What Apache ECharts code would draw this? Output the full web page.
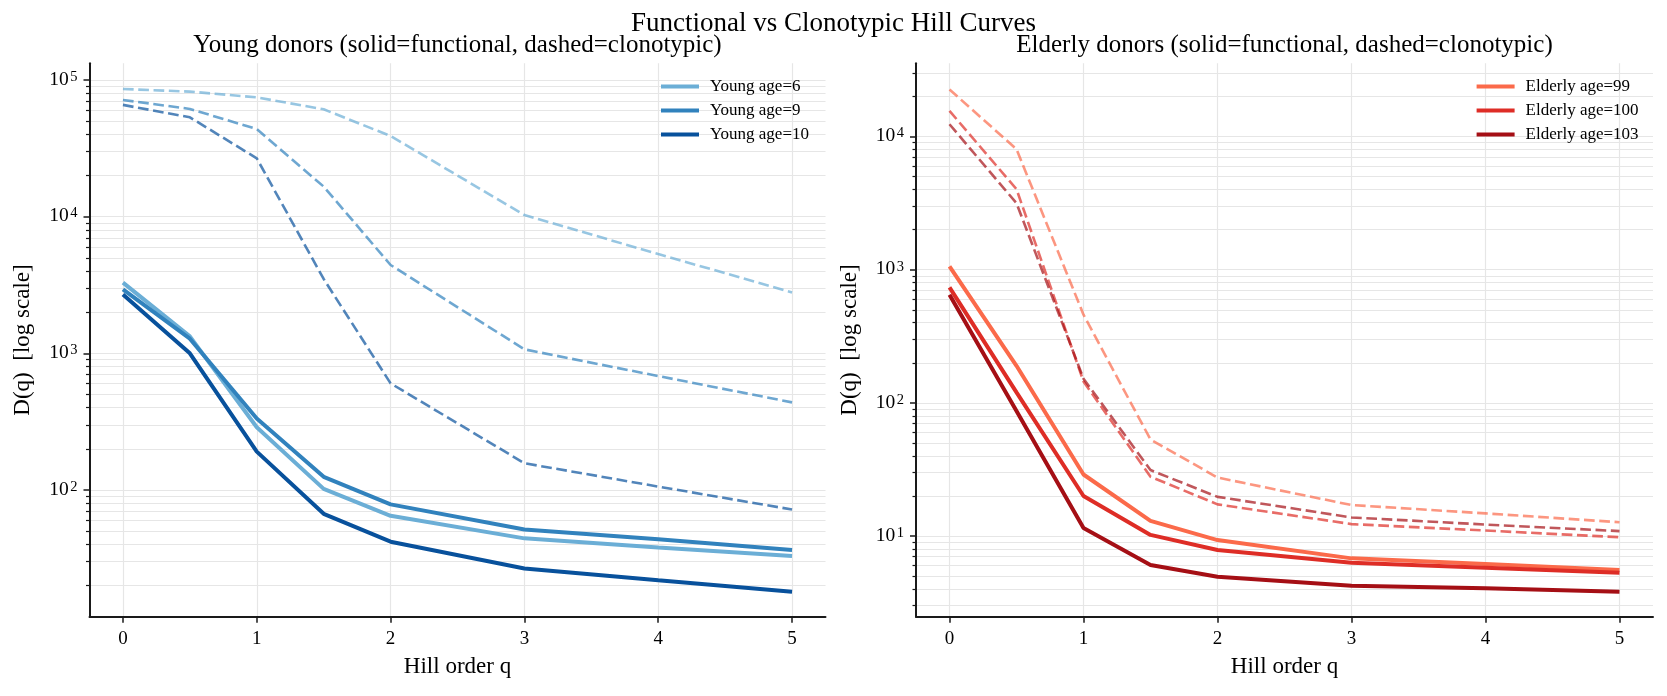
<!DOCTYPE html>
<html>
<head>
<meta charset="utf-8">
<script src="https://cdn.jsdelivr.net/npm/echarts@6/dist/echarts.min.js"></script>
<style>
html,body{margin:0;padding:0;background:#fff;}
#chart{width:1667px;height:696px;}
</style>
</head>
<body>
<div id="chart"></div>
<script>
// ---------------- data ----------------
const qValues = [0, 0.5, 1, 1.5, 2, 3, 4, 5];
const xTicks = [0, 1, 2, 3, 4, 5];

const youngNames = ['Young age=6', 'Young age=9', 'Young age=10'];
const youngColors = ['#6baed6', '#3182bd', '#08519c'];
const youngFunctional6  = [3290, 1330, 288, 102, 64.8, 44.3, 38.0, 32.9];
const youngFunctional9  = [2940, 1280, 334, 125, 78.5, 51.5, 43.6, 36.4];
const youngFunctional10 = [2700, 1000, 191, 67, 41.9, 26.7, 21.9, 18.0];
const youngClonotypic6  = [85900, 82200, 74600, 61000, 38900, 10280, 5330, 2790];
const youngClonotypic9  = [71400, 61400, 43700, 16600, 4430, 1070, 682, 438];
const youngClonotypic10 = [65700, 53300, 26700, 3500, 603, 157, 106, 72];

const elderlyNames = ['Elderly age=99', 'Elderly age=100', 'Elderly age=103'];
const elderlyColors = ['#fb6a4a', '#de2d26', '#a50f15'];
const elderlyFunctional99  = [1060, 190, 29, 13.0, 9.33, 6.80, 6.17, 5.56];
const elderlyFunctional100 = [737, 120, 20, 10.2, 7.85, 6.31, 5.79, 5.31];
const elderlyFunctional103 = [649, 87, 11.5, 6.06, 4.95, 4.24, 4.05, 3.82];
const elderlyClonotypic99  = [22600, 8040, 460, 53.1, 27.5, 17.1, 14.8, 12.7];
const elderlyClonotypic100 = [15600, 4030, 145, 27.9, 17.3, 12.3, 11.0, 9.8];
const elderlyClonotypic103 = [12380, 3160, 152, 31.3, 19.7, 13.8, 12.2, 10.9];

const leftMajorTicks = [100, 1000, 10000, 100000];
const rightMajorTicks = [10, 100, 1000, 10000];

const suptitleText = 'Functional vs Clonotypic Hill Curves';
const leftTitleText = 'Young donors (solid=functional, dashed=clonotypic)';
const rightTitleText = 'Elderly donors (solid=functional, dashed=clonotypic)';
const xName = 'Hill order q';
const yName = 'D(q)  [log scale]';

// ---------------- helpers ----------------
const FONT = 'Liberation Serif';
const AXIS_COLOR = '#1a1a1a';
const GRID_COLOR = '#e6e6e6';

function minorsBetween(lo, hi) {
  const out = [];
  for (let d = Math.floor(Math.log10(lo)); d <= Math.ceil(Math.log10(hi)); d++) {
    for (let k = 2; k <= 9; k++) {
      const v = k * Math.pow(10, d);
      if (v > lo && v < hi) out.push(v);
    }
  }
  return out;
}
function pairs(vals) { return qValues.map((q, i) => [q, vals[i]]); }

const leftRange = [11.84, 132400];
const rightRange = [2.48, 35500];

function xAxisFor(gi) {
  return {
    type: 'value', gridIndex: gi, min: -0.25, max: 5.25,
    axisLine: { show: true, onZero: false, lineStyle: { color: AXIS_COLOR, width: 2 } },
    axisTick: { show: true, customValues: xTicks, length: 6, lineStyle: { color: AXIS_COLOR, width: 1.5 } },
    axisLabel: { customValues: xTicks, fontSize: 19, fontFamily: FONT, color: '#000', margin: 13 },
    splitLine: { show: true, lineStyle: { color: GRID_COLOR, width: 1.2 } },
    name: xName, nameLocation: 'middle', nameGap: 39,
    nameTextStyle: { fontSize: 23, fontFamily: FONT, color: '#000' }
  };
}
function yMainFor(gi, range, majors) {
  return {
    type: 'log', logBase: 10, gridIndex: gi, min: range[0], max: range[1],
    axisLine: { show: true, onZero: false, lineStyle: { color: AXIS_COLOR, width: 2 } },
    axisTick: { show: true, customValues: majors, length: 6, lineStyle: { color: AXIS_COLOR, width: 1.5 } },
    axisLabel: {
      customValues: majors, margin: 12, color: '#000', fontFamily: FONT, fontSize: 19,
      formatter: function (v) { return '{b|10}{s|' + Math.round(Math.log10(v)) + '}'; },
      rich: {
        b: { fontSize: 19.5, fontFamily: FONT, color: '#000', lineHeight: 19, verticalAlign: 'bottom' },
        s: { fontSize: 14.5, fontFamily: FONT, color: '#000', lineHeight: 14, verticalAlign: 'bottom', padding: [0, 0, 5, 1.5] }
      }
    },
    splitLine: { show: true, lineStyle: { color: GRID_COLOR, width: 1.2 } },
    name: yName, nameLocation: 'middle', nameGap: 55, nameRotate: 90,
    nameTextStyle: { fontSize: 23, fontFamily: FONT, color: '#000' }
  };
}
function yMinorFor(gi, range) {
  const m = minorsBetween(range[0], range[1]);
  return {
    type: 'log', logBase: 10, gridIndex: gi, min: range[0], max: range[1], position: 'left',
    axisLine: { show: false, onZero: false },
    axisTick: { show: true, customValues: m, length: 3.5, lineStyle: { color: AXIS_COLOR, width: 1.2 } },
    axisLabel: { show: false },
    splitLine: { show: true, lineStyle: { color: GRID_COLOR, width: 1.2 } }
  };
}

const series = [];
function addSet(gi, yIdx, names, colors, funcs, clons) {
  names.forEach((nm, i) => {
    series.push({
      type: 'line', name: nm, xAxisIndex: gi, yAxisIndex: yIdx, data: pairs(funcs[i]),
      symbol: 'none', showSymbol: false, silent: true, z: 3,
      lineStyle: { color: colors[i], width: 4 }, itemStyle: { color: colors[i] },
      emphasis: { disabled: true }
    });
    series.push({
      type: 'line', name: nm + ' (clonotypic)', xAxisIndex: gi, yAxisIndex: yIdx, data: pairs(clons[i]),
      symbol: 'none', showSymbol: false, silent: true, z: 2,
      lineStyle: { color: colors[i], width: 2.6, type: [10.7, 4.6], opacity: 0.7 }, itemStyle: { color: colors[i] },
      emphasis: { disabled: true }
    });
  });
}
addSet(0, 0, youngNames, youngColors,
  [youngFunctional6, youngFunctional9, youngFunctional10],
  [youngClonotypic6, youngClonotypic9, youngClonotypic10]);
addSet(1, 2, elderlyNames, elderlyColors,
  [elderlyFunctional99, elderlyFunctional100, elderlyFunctional103],
  [elderlyClonotypic99, elderlyClonotypic100, elderlyClonotypic103]);

function legendFor(names, left) {
  return {
    data: names, orient: 'vertical', left: left, top: 78, padding: 0,
    icon: 'rect', itemWidth: 38, itemHeight: 4, itemGap: 7,
    selectedMode: false,
    textStyle: { fontSize: 17, fontFamily: FONT, color: '#000', lineHeight: 17, padding: [0, 0, 0, 6] }
  };
}

const option = {
  animation: false,
  backgroundColor: '#ffffff',
  textStyle: { fontFamily: FONT },
  title: [
    { text: suptitleText, left: 'center', top: 10, padding: 0,
      textStyle: { fontSize: 27, fontWeight: 'normal', fontFamily: FONT, color: '#000' } },
    { text: leftTitleText, left: 457.5, textAlign: 'center', top: 33, padding: 0,
      textStyle: { fontSize: 25, fontWeight: 'normal', fontFamily: FONT, color: '#000' } },
    { text: rightTitleText, left: 1284.5, textAlign: 'center', top: 33, padding: 0,
      textStyle: { fontSize: 25, fontWeight: 'normal', fontFamily: FONT, color: '#000' } }
  ],
  legend: [legendFor(youngNames, 661), legendFor(elderlyNames, 1476.6)],
  grid: [
    { left: 89.5, top: 63.3, width: 736, height: 553.4, containLabel: false },
    { left: 916, top: 63.3, width: 737, height: 553.4, containLabel: false }
  ],
  xAxis: [xAxisFor(0), xAxisFor(1)],
  yAxis: [
    yMainFor(0, leftRange, leftMajorTicks),
    yMinorFor(0, leftRange),
    yMainFor(1, rightRange, rightMajorTicks),
    yMinorFor(1, rightRange)
  ],
  series: series
};

const chart = echarts.init(document.getElementById('chart'), null, { renderer: 'canvas' });
chart.setOption(option);
</script>
</body>
</html>
